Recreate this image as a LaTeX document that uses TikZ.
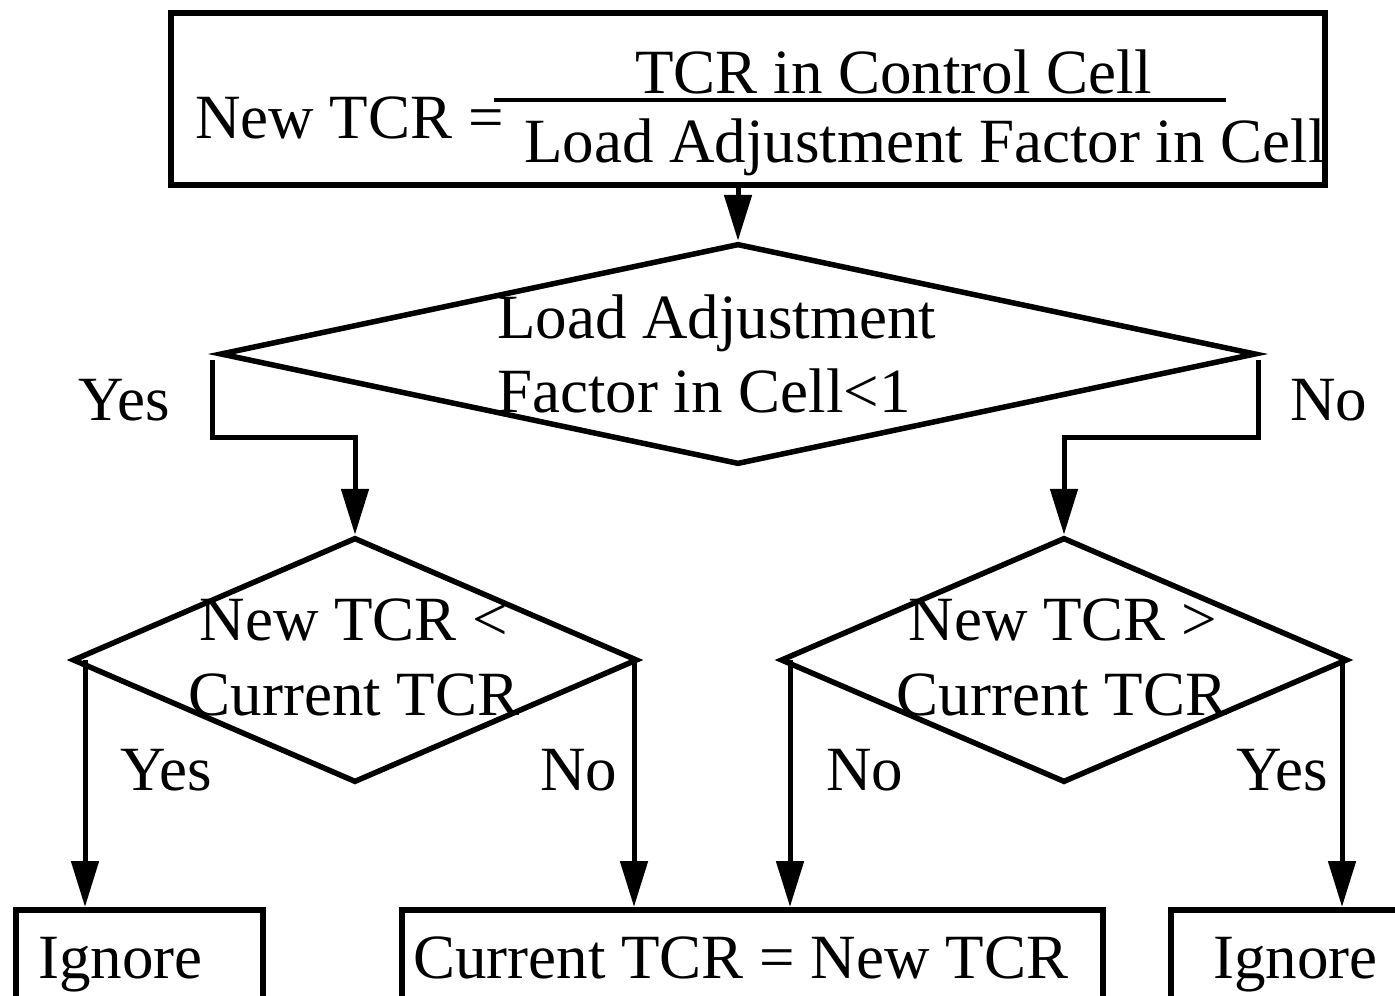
\documentclass[tikz,border=0pt]{standalone}
\usepackage{fontspec}
\setmainfont{Liberation Serif}
\usetikzlibrary{arrows.meta,shapes.geometric,calc}
\begin{document}
\begin{tikzpicture}[x=1pt,y=-1pt,
  big/.style={font=\fontsize{63}{70}\selectfont},
  txt/.style={big, inner sep=0pt, anchor=base west},
  ctxt/.style={big, inner sep=0pt, anchor=base},
  boxnode/.style={draw, rectangle, line width=5.5pt, inner sep=0pt, anchor=north west},
  decision/.style={draw, diamond, line width=5.5pt, inner sep=0pt},
  arr/.style={line width=5pt, -{Triangle[length=46pt,width=27pt]}}]
\useasboundingbox (0,0) rectangle (1395,996);
\clip (0,0) rectangle (1395,996);

% formula box
\node[boxnode, minimum width=1154pt, minimum height=172pt] (top) at (168,10) {};
\node[txt] (lhs) at (195,138) {New TCR =};
\node[txt] (num) at (635,93) {TCR in Control Cell};
\node[txt] (den) at (524,162) {Load Adjustment Factor in Cell};
\coordinate (barL) at (494,100);
\coordinate (barR) at (1226,100);
\draw[line width=4.5pt] (barL) -- (barR);

% first decision
\node[decision, minimum width=1036pt, minimum height=221pt] (d1) at (738,354) {};
\node[txt] (d1a) at (497,338) {Load Adjustment};
\node[txt] (d1b) at (497,412) {Factor in Cell<1};
\draw[arr] (top.south -| d1.north) -- (d1.north);

% second-level decisions
\node[decision, minimum width=565pt, minimum height=245pt] (d2) at (355,660) {};
\node[ctxt] (d2a) at (354,640) {New TCR <};
\node[ctxt] (d2b) at (354,715) {Current TCR};

\node[decision, minimum width=567pt, minimum height=245pt] (d3) at (1064,660) {};
\node[ctxt] (d3a) at (1063,640) {New TCR >};
\node[ctxt] (d3b) at (1062,715) {Current TCR};

% outcome boxes
\node[boxnode, minimum width=247pt, minimum height=120pt] (ign1) at (13,907) {};
\node[txt] (ign1t) at (38,978) {Ignore};
\node[boxnode, minimum width=701pt, minimum height=120pt] (upd) at (399,907) {};
\node[txt] (updt) at (413,978) {Current TCR = New TCR};
\node[boxnode, minimum width=260pt, minimum height=120pt] (ign2) at (1168,907) {};
\node[txt] (ign2t) at (1213,978) {Ignore};

% branches of the first decision
\coordinate (y1) at (212,360);
\coordinate (n1) at (1258,360);
\draw[arr] (y1) |- ($(d2.north)+(0,-97)$) -- (d2.north);
\draw[arr] (n1) |- ($(d3.north)+(0,-97)$) -- (d3.north);
\node[txt] (y1l) at (78,420) {Yes};
\node[txt] (n1l) at (1290,420) {No};

% branches of the second-level decisions
\coordinate (y2) at (85,660);
\coordinate (n2) at (634,660);
\coordinate (n3) at (790,660);
\coordinate (y3) at (1342,660);
\draw[arr] (y2) -- (y2 |- ign1.north);
\draw[arr] (n2) -- (n2 |- upd.north);
\draw[arr] (n3) -- (n3 |- upd.north);
\draw[arr] (y3) -- (y3 |- ign2.north);
\node[txt] (y2l) at (120,790) {Yes};
\node[txt] (n2l) at (540,790) {No};
\node[txt] (n3l) at (826,790) {No};
\node[txt] (y3l) at (1236,790) {Yes};
\end{tikzpicture}
\end{document}
